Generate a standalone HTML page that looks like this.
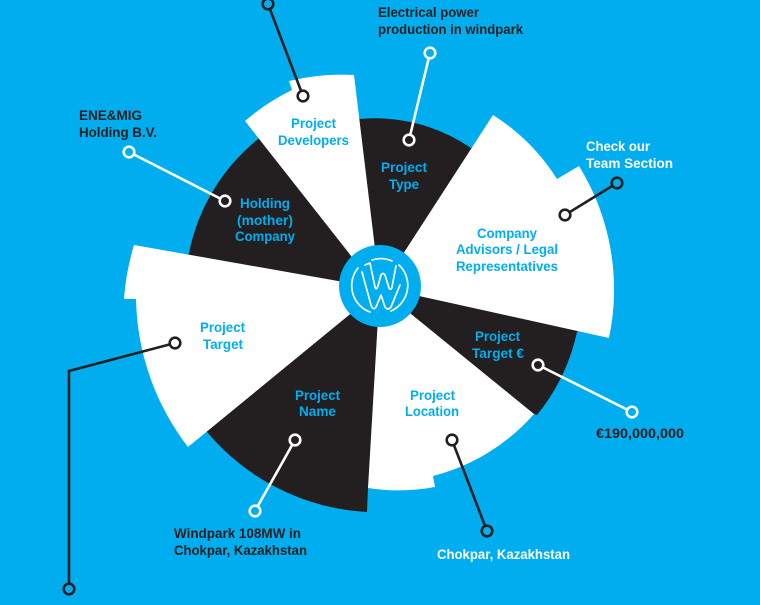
<!DOCTYPE html>
<html>
<head>
<meta charset="utf-8">
<style>
html,body{margin:0;padding:0;background:#00AEEF;}
svg{display:block;}
text{font-family:"Liberation Sans",sans-serif;font-weight:bold;font-size:14px;}
.b{fill:#00AEEF}.d{fill:#231F20}.w{fill:#fff}
</style>
</head>
<body>
<svg width="760" height="605" viewBox="0 0 760 605" xmlns="http://www.w3.org/2000/svg">
<rect width="760" height="605" fill="#00AEEF"/>
<!-- black sectors -->
<path class="d" d="M372 292L185 262L189 253A195 195 0 0 1 262 136L300 170Z"/>
<path class="d" d="M380 292L352 121L359 119A170 170 0 0 1 471 148L480 142Z"/>
<path class="d" d="M400 285L585 325L577 332A200 200 0 0 1 537 415L528 412L400 320Z"/>
<path class="d" d="M360 280L385 300L385 400L368 488L367 512A225 225 0 0 1 207 432L200 425Z"/>
<!-- white sectors -->
<path class="w" d="M363 271L245 121A215 215 0 0 1 292 90L289 81A215 215 0 0 1 354 75L377 265Z"/>
<path class="w" d="M392 271L493 115A205 205 0 0 1 557 179L579 166A235 235 0 0 1 609 338L410 294Z"/>
<path class="w" d="M400 305L534 414A200 200 0 0 1 433 476L435 487A200 200 0 0 1 368 488L378 318Z"/>
<path class="w" d="M355 284L134 245A250 250 0 0 0 124 299L136 299A250 250 0 0 0 188 447L360 306Z"/>
<!-- hub -->
<circle cx="380" cy="286" r="41" fill="#00AEEF"/>
<g fill="none" stroke="#fff" stroke-width="1.700" stroke-linecap="round" stroke-linejoin="round">
<path d="M358 268A28 28 0 0 0 370 312"/>
<path d="M372 260A28 28 0 0 1 392 261"/>
<path d="M399 265A28 28 0 0 1 391 311"/>
<path d="M362 272L371 305Q373 311 376 307L381 295L385 307Q388 311 391 307L400 285"/>
<path d="M365 265L370 263L375 287Q376 291 378 286L381 275Q383 272 385 275L389 288Q391 291 392 287L396 266"/>
</g>
<!-- connectors -->
<g fill="none" stroke-width="2.600">
<path d="M268 4L303 96" stroke="#231F20"/>
<path d="M430 53L409 140" stroke="#fff"/>
<path d="M129 152L225 201" stroke="#fff"/>
<path d="M565 215L617 183" stroke="#231F20"/>
<path d="M538 365L632 412" stroke="#fff"/>
<path d="M452 440L487 531" stroke="#231F20"/>
<path d="M295 440L255 511" stroke="#fff"/>
<path d="M175 343L69 371L69 589" stroke="#231F20"/>
</g>
<g stroke-width="2.600" fill="#00AEEF">
<circle cx="268" cy="4" r="5.300" stroke="#231F20"/>
<circle cx="303" cy="96" r="5.300" fill="#fff" stroke="#231F20"/>
<circle cx="430" cy="53" r="5.300" stroke="#fff"/>
<circle cx="409" cy="140" r="5.300" fill="#231F20" stroke="#fff"/>
<circle cx="129" cy="152" r="5.300" stroke="#fff"/>
<circle cx="225" cy="201" r="5.300" fill="#231F20" stroke="#fff"/>
<circle cx="565" cy="215" r="5.300" fill="#fff" stroke="#231F20"/>
<circle cx="617" cy="183" r="5.300" stroke="#231F20"/>
<circle cx="538" cy="365" r="5.300" fill="#231F20" stroke="#fff"/>
<circle cx="632" cy="412" r="5.300" stroke="#fff"/>
<circle cx="452" cy="440" r="5.300" fill="#fff" stroke="#231F20"/>
<circle cx="487" cy="531" r="5.300" stroke="#231F20"/>
<circle cx="295" cy="440" r="5.300" fill="#231F20" stroke="#fff"/>
<circle cx="255" cy="511" r="5.300" stroke="#fff"/>
<circle cx="175" cy="343" r="5.300" fill="#fff" stroke="#231F20"/>
<circle cx="69" cy="589" r="5.300" stroke="#231F20"/>
</g>
<!-- dark labels -->
<g class="d">
<text x="378" y="17" textLength="101" lengthAdjust="spacingAndGlyphs">Electrical power</text>
<text x="378" y="34" textLength="145" lengthAdjust="spacingAndGlyphs">production in windpark</text>
<text x="79" y="120" textLength="63" lengthAdjust="spacingAndGlyphs">ENE&amp;MIG</text>
<text x="79" y="137" textLength="78" lengthAdjust="spacingAndGlyphs">Holding B.V.</text>
<text x="596" y="438" textLength="88" lengthAdjust="spacingAndGlyphs">€190,000,000</text>
<text x="174" y="538" textLength="127" lengthAdjust="spacingAndGlyphs">Windpark 108MW in</text>
<text x="174" y="555" textLength="133" lengthAdjust="spacingAndGlyphs">Chokpar, Kazakhstan</text>
</g>
<!-- white labels -->
<g class="w">
<text x="586" y="151" textLength="64" lengthAdjust="spacingAndGlyphs">Check our</text>
<text x="586" y="168" textLength="87" lengthAdjust="spacingAndGlyphs">Team Section</text>
<text x="437" y="559" textLength="133" lengthAdjust="spacingAndGlyphs">Chokpar, Kazakhstan</text>
</g>
<!-- blue labels -->
<g class="b">
<text x="291" y="128" textLength="45" lengthAdjust="spacingAndGlyphs">Project</text>
<text x="278" y="145" textLength="71" lengthAdjust="spacingAndGlyphs">Developers</text>
<text x="381" y="172" textLength="46" lengthAdjust="spacingAndGlyphs">Project</text>
<text x="389" y="189" textLength="30" lengthAdjust="spacingAndGlyphs">Type</text>
<text x="240" y="208" textLength="50" lengthAdjust="spacingAndGlyphs">Holding</text>
<text x="237" y="225" textLength="56" lengthAdjust="spacingAndGlyphs">(mother)</text>
<text x="235" y="241" textLength="60" lengthAdjust="spacingAndGlyphs">Company</text>
<text x="477" y="238" textLength="60" lengthAdjust="spacingAndGlyphs">Company</text>
<text x="456" y="254" textLength="102" lengthAdjust="spacingAndGlyphs">Advisors / Legal</text>
<text x="456" y="271" textLength="102" lengthAdjust="spacingAndGlyphs">Representatives</text>
<text x="475" y="341" textLength="45" lengthAdjust="spacingAndGlyphs">Project</text>
<text x="472" y="358" textLength="52" lengthAdjust="spacingAndGlyphs">Target €</text>
<text x="410" y="400" textLength="45" lengthAdjust="spacingAndGlyphs">Project</text>
<text x="405" y="416" textLength="54" lengthAdjust="spacingAndGlyphs">Location</text>
<text x="295" y="400" textLength="45" lengthAdjust="spacingAndGlyphs">Project</text>
<text x="299" y="416" textLength="37" lengthAdjust="spacingAndGlyphs">Name</text>
<text x="200" y="332" textLength="45" lengthAdjust="spacingAndGlyphs">Project</text>
<text x="203" y="349" textLength="40" lengthAdjust="spacingAndGlyphs">Target</text>
</g>
</svg>
</body>
</html>
